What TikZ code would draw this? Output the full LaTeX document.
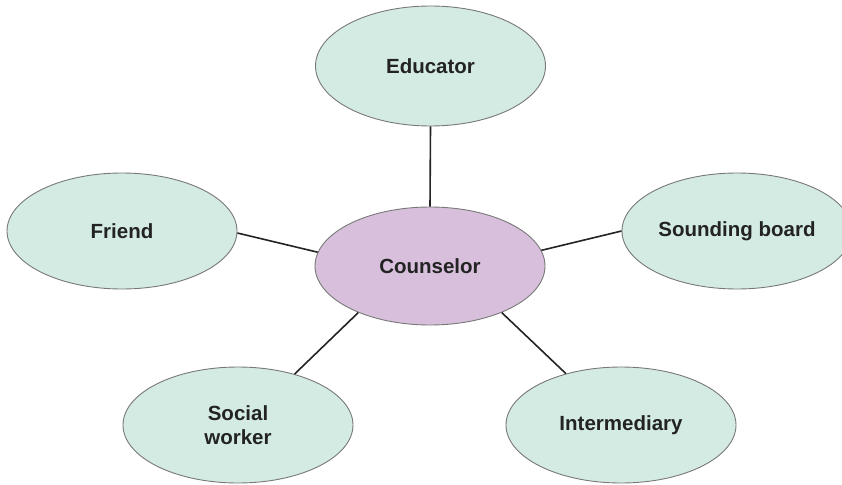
\documentclass[tikz,border=0pt]{standalone}
\usepackage{fontspec}
\setmainfont{Liberation Sans}
\usetikzlibrary{shapes.geometric}
\definecolor{mint}{RGB}{212,235,228}
\definecolor{lilac}{RGB}{216,192,220}
\definecolor{rim}{RGB}{120,120,120}
\definecolor{ink}{RGB}{35,35,35}
\begin{document}
\begin{tikzpicture}[x=1pt,y=-1pt,
  role/.style={ellipse,draw=rim,line width=0.9pt,fill=mint,inner sep=0pt,
    minimum width=230pt,minimum height=116pt,
    font=\fontsize{20.5}{24.5}\selectfont\bfseries,text=ink,align=center},
  hub/.style={role,fill=lilac,minimum height=118pt},
  link/.style={draw=ink,line width=1.6pt}]
\useasboundingbox (0,0) rectangle (842,484);
\node[role,minimum height=120pt] (edu) at (430.5,66) {Educator};
\node[role] (fri) at (122,231) {Friend};
\node[hub] (cou) at (430,266) {Counselor};
\node[role] (snd) at (737,231) {Sounding board};
\node[role] (soc) at (238,425) {Social\\worker};
\node[role] (int) at (621,425) {Intermediary};
\draw[link] (edu.-90) -- (cou.90);
\draw[link] (fri.-1) -- (cou.173);
\draw[link] (cou.8) -- (snd.180);
\draw[link] (cou.213) -- (soc.42);
\draw[link] (cou.-33) -- (int.137);
\end{tikzpicture}
\end{document}
